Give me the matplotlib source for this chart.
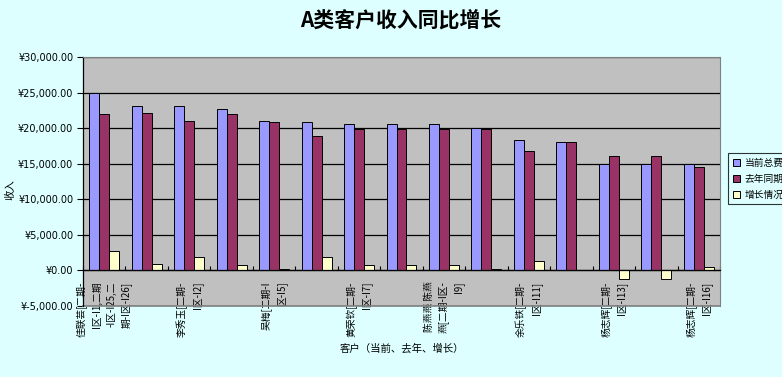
import numpy as np
import matplotlib
matplotlib.use("Agg")
import matplotlib.pyplot as plt
from matplotlib.ticker import FuncFormatter, FixedLocator

plt.rcParams['font.family'] = ['Noto Sans CJK SC', 'DejaVu Sans']

# data
labels = ["佳联芸[二期-\nI区-I1,二期\n-I区-I25,二\n期-I区-I26]", "",
          "李秀玉[二期-\nI区-I2]", "",
          "吴梅[二期-I\n区-I5]", "",
          "黄荣钦[二期-\nI区-I7]", "",
          "陈燕燕 陈燕\n燕[二期-I区-\nI9]", "",
          "余乐铁[二期-\nI区-I11]", "",
          "杨志辉[二期-\nI区-I13]", "",
          "杨志辉[二期-\nI区-I16]"]
current = [24960, 23090, 23090, 22760, 20980, 20840, 20560, 20560,
           20560, 19950, 18310, 18030, 14900, 14900, 14900]
last_year = [21970, 22100, 20940, 21970, 20840, 18880, 19900, 19810,
             19860, 19860, 16770, 18030, 16070, 16070, 14520]
growth = [2720, 890, 1870, 750, 190, 1870, 750, 750,
          700, 140, 1310, 0, -1170, -1170, 420]
series_names = ["当前总费用", "去年同期", "增长情况"]
colors = ["#9999FF", "#993366", "#FFFFCC"]

bg = "#DDFFFF"
fig = plt.figure(figsize=(7.82, 3.77), dpi=100, facecolor=bg)
ax = fig.add_axes([83/782, 1-306/377, (720-83)/782, (306-57)/377])
ax.set_facecolor("#C0C0C0")

x = np.arange(len(current))
w = 0.235
for k, vals in enumerate([current, last_year, growth]):
    ax.bar(x + (k-1)*w, vals, w, color=colors[k], edgecolor="black",
           linewidth=0.7, label=series_names[k], zorder=3)

ax.set_xlim(-0.5, len(current)-0.5)
ax.set_ylim(-5000, 30000)
ax.set_yticks(np.arange(-5000, 30001, 5000))
ax.yaxis.set_major_formatter(FuncFormatter(lambda v, p: "¥{:,.2f}".format(v)))
ax.grid(axis="y", color="black", linewidth=0.9, zorder=1)
ax.tick_params(axis="y", direction="out", length=4, width=0.8, labelsize=7, pad=3)
for t in ax.get_yticklabels():
    t.set_family("DejaVu Sans")

ax.spines["bottom"].set_position(("data", 0))
ax.spines["bottom"].set_zorder(4)
ax.spines["bottom"].set_linewidth(0.9)
ax.spines["left"].set_linewidth(0.9)
for s in ["top", "right"]:
    ax.spines[s].set_color("#808080")
ax.axhline(-5000, color="#808080", linewidth=1.2, clip_on=False)

ax.xaxis.set_major_locator(FixedLocator(x))
ax.set_xticklabels(labels, rotation=90, fontsize=7, va="top",
                   ha="center", multialignment="right", linespacing=1.55)
ax.tick_params(axis="x", which="major", length=0, pad=8)
ax.xaxis.set_minor_locator(FixedLocator(np.arange(-0.5, len(current), 1)))
ax.tick_params(axis="x", which="minor", direction="in", length=3, width=0.8)

fig.text(401/782, 1-20/377, "A类客户收入同比增长", ha="center", va="center",
         fontsize=15, fontweight="bold")
fig.text(402/782, 1-349/377, "客户（当前、去年、增长）", ha="center", va="center",
         fontsize=7.5)
fig.text(10/782, 1-190/377, "收入", ha="center", va="center", rotation=90,
         fontsize=7.5)

leg = fig.legend(loc="upper left", bbox_to_anchor=(728/782, 1-153/377),
                 fontsize=7, frameon=True, fancybox=False, handlelength=0.7,
                 handleheight=0.7, handletextpad=0.5, borderpad=0.5,
                 labelspacing=0.6, borderaxespad=0)
leg.get_frame().set_edgecolor("black")
leg.get_frame().set_facecolor(bg)
leg.get_frame().set_linewidth(0.8)

fig.savefig("out.png", dpi=100, facecolor=bg)
